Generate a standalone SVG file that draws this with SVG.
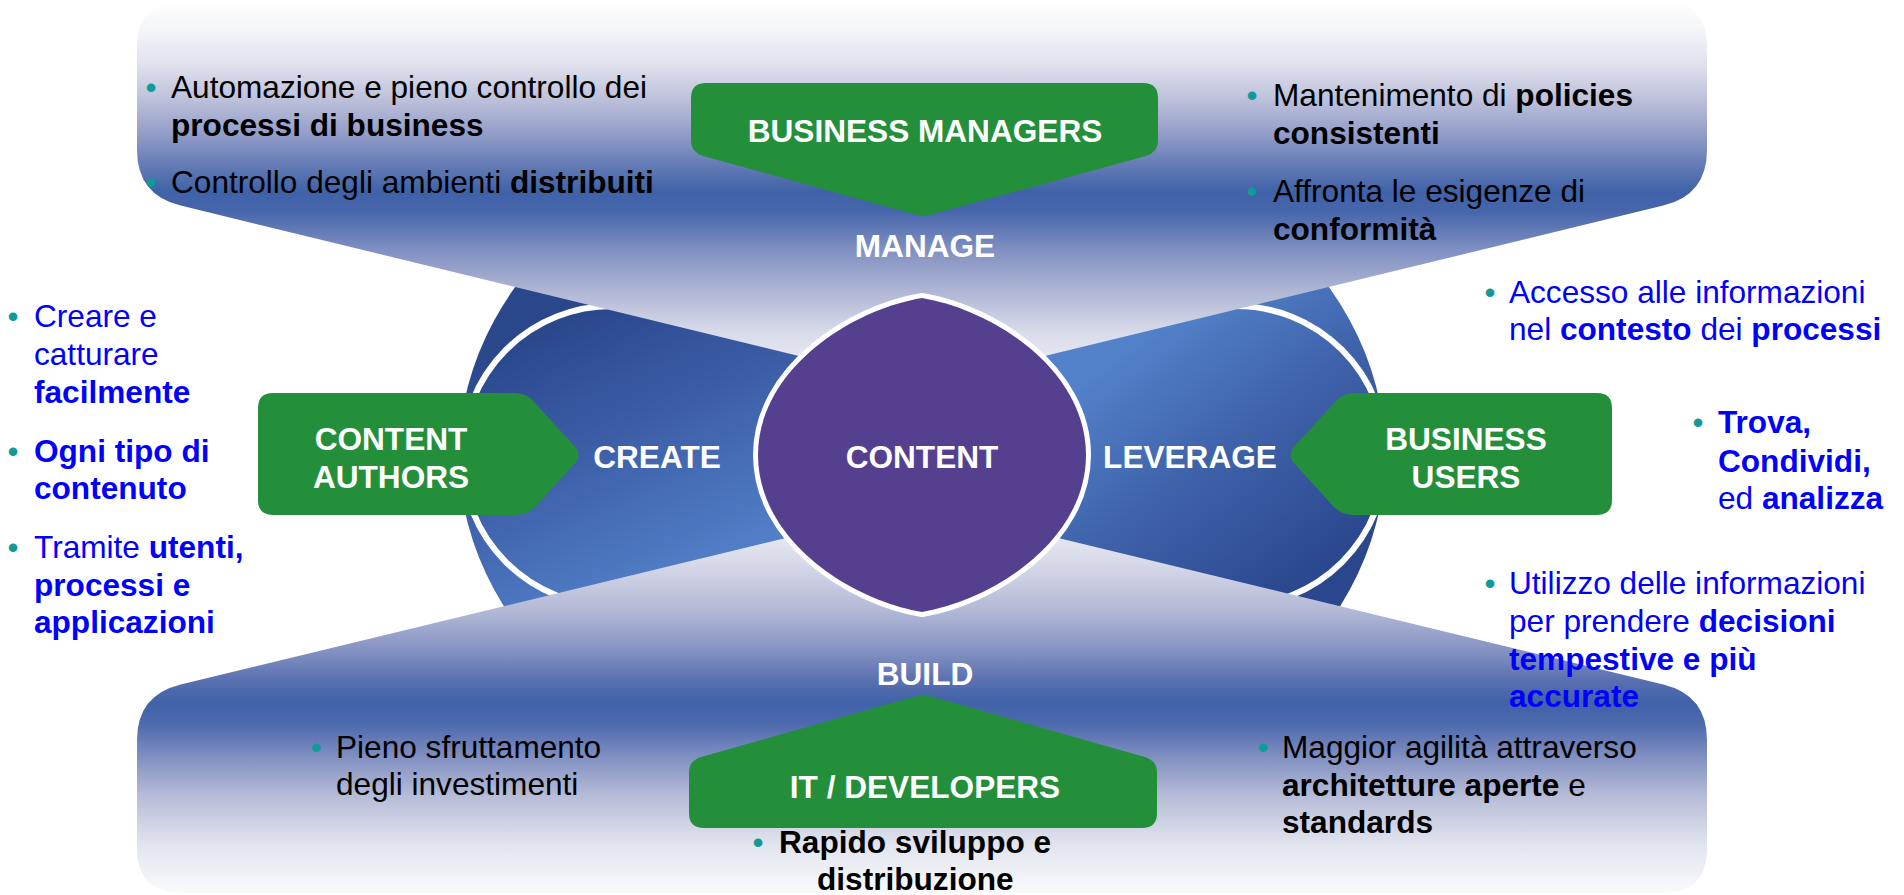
<svg xmlns="http://www.w3.org/2000/svg" width="1904" height="895" viewBox="0 0 1904 895">
<style>
.t{font-family:"Liberation Sans",Arial,Helvetica,sans-serif;font-size:31.6px}
.k{fill:#000}
.u{fill:#0000ff}
.w{fill:#fff;font-weight:bold;text-anchor:middle}
.bd{font-weight:bold}
.dot{fill:#109a9a;text-anchor:middle}
.tag{fill:#248f3b}
.ring{fill:none;stroke:#fff;stroke-width:6}
</style>
<defs>
<linearGradient id="gTop" gradientUnits="userSpaceOnUse" x1="0" y1="0" x2="0" y2="386">
<stop offset="0" stop-color="#ffffff"/>
<stop offset="0.078" stop-color="#f4f5f8"/>
<stop offset="0.168" stop-color="#e0e1ec"/>
<stop offset="0.259" stop-color="#bcc0da"/>
<stop offset="0.337" stop-color="#98a1cb"/>
<stop offset="0.415" stop-color="#6b80b8"/>
<stop offset="0.497" stop-color="#3f62a8"/>
<stop offset="0.549" stop-color="#4766ab"/>
<stop offset="0.648" stop-color="#8090c2"/>
<stop offset="0.751" stop-color="#aeb5d4"/>
<stop offset="0.855" stop-color="#d6d9e9"/>
<stop offset="1" stop-color="#f6f6fa"/>
</linearGradient>
<linearGradient id="gBot" gradientUnits="userSpaceOnUse" x1="0" y1="505" x2="0" y2="893">
<stop offset="0" stop-color="#f6f6fa"/>
<stop offset="0.142" stop-color="#d9dbea"/>
<stop offset="0.271" stop-color="#b3b9d6"/>
<stop offset="0.374" stop-color="#8593c3"/>
<stop offset="0.451" stop-color="#5a70b0"/>
<stop offset="0.510" stop-color="#3f62a8"/>
<stop offset="0.567" stop-color="#4f6aae"/>
<stop offset="0.657" stop-color="#8593c3"/>
<stop offset="0.747" stop-color="#b5bbd7"/>
<stop offset="0.876" stop-color="#e2e4ee"/>
<stop offset="1" stop-color="#fafafc"/>
</linearGradient>
<linearGradient id="gL" gradientUnits="userSpaceOnUse" x1="540" y1="330" x2="660" y2="600">
<stop offset="0" stop-color="#2a478c"/>
<stop offset="0.45" stop-color="#3d5fa8"/>
<stop offset="1" stop-color="#5382ca"/>
</linearGradient>
<linearGradient id="gR" gradientUnits="userSpaceOnUse" x1="1150" y1="330" x2="1330" y2="570">
<stop offset="0" stop-color="#5382ca"/>
<stop offset="0.45" stop-color="#3f63ab"/>
<stop offset="1" stop-color="#2a468c"/>
</linearGradient>
</defs>
<rect x="0" y="0" width="1904" height="895" fill="#ffffff"/>

<g id="lobes">
<path d="M922,103 A463,352 0 0 0 922,807 Z" fill="url(#gL)"/>
<path d="M922,103 A463,352 0 0 1 922,807 Z" fill="url(#gR)"/>
<path class="ring" d="M612,306 A150,150 0 0 0 612,606"/>
<path class="ring" d="M1236,306 A150,150 0 0 1 1236,606"/>
</g>

<g id="banner-top">
<path d="M137,47 Q137,2 182,2 L1662,2 Q1707,2 1707,47 L1707,150 Q1707,195 1663.3,205.6 L922,386 L180.7,205.6 Q137,195 137,150 Z" fill="url(#gTop)"/>
</g>
<g id="banner-bottom">
<path d="M922,505 L1663.3,684.4 Q1707,695 1707,740 L1707,848 Q1707,893 1662,893 L182,893 Q137,893 137,848 L137,740 Q137,695 180.7,684.4 Z" fill="url(#gBot)"/>
</g>

<g id="content">
<path d="M922,298 C850,310 758,370 758,455 C758,540 850,600 922,612 C994,600 1086,540 1086,455 C1086,370 994,310 922,298 Z" fill="#54408e" stroke="#ffffff" stroke-width="10" stroke-linejoin="round" paint-order="stroke"/>
<text class="t w" x="922" y="468">CONTENT</text>
</g>

<g id="connectors"></g>

<g id="business-managers">
<path class="tag" d="M691,98 Q691,83 706,83 L1143,83 Q1158,83 1158,98 L1158,141 Q1158,152 1146,156 L933,214 Q923,217 913,214 L703,156 Q691,152 691,141 Z"/>
<text class="t w" x="925" y="142">BUSINESS MANAGERS</text>
</g>
<g id="it-developers">
<path class="tag" d="M689,813 Q689,828 704,828 L1142,828 Q1157,828 1157,813 L1157,772 Q1157,761 1145,757 L933,697 Q923,694 913,697 L701,757 Q689,761 689,772 Z"/>
<text class="t w" x="925" y="798">IT / DEVELOPERS</text>
</g>
<g id="content-authors">
<path class="tag" d="M258,408 Q258,393 273,393 L515,393 Q527,393 535,403 L576,448 Q581,455 576,462 L535,507 Q527,515 515,515 L273,515 Q258,515 258,500 Z"/>
<text class="t w" x="391" y="450">CONTENT</text>
<text class="t w" x="391" y="488">AUTHORS</text>
</g>
<g id="business-users">
<path class="tag" d="M1612,408 Q1612,393 1597,393 L1354,393 Q1342,393 1334,403 L1293,448 Q1288,455 1293,462 L1334,507 Q1342,515 1354,515 L1597,515 Q1612,515 1612,500 Z"/>
<text class="t w" x="1466" y="450">BUSINESS</text>
<text class="t w" x="1466" y="488">USERS</text>
</g>

<g id="stage-labels">
<text class="t w" x="925" y="257">MANAGE</text>
<text class="t w" x="657" y="468">CREATE</text>
<text class="t w" x="1190" y="468">LEVERAGE</text>
<text class="t w" x="925" y="685">BUILD</text>
</g>

<g id="text-manage-left">
<text class="t dot" x="151" y="98">•</text>
<text class="t k" x="171" y="98">Automazione e pieno controllo dei</text>
<text class="t k bd" x="171" y="136">processi di business</text>
<text class="t dot" x="151" y="193">•</text>
<text class="t k" x="171" y="193">Controllo degli ambienti <tspan class="bd">distribuiti</tspan></text>
</g>
<g id="text-manage-right">
<text class="t dot" x="1252" y="106">•</text>
<text class="t k" x="1273" y="106">Mantenimento di <tspan class="bd">policies</tspan></text>
<text class="t k bd" x="1273" y="144">consistenti</text>
<text class="t dot" x="1252" y="202">•</text>
<text class="t k" x="1273" y="202">Affronta le esigenze di</text>
<text class="t k bd" x="1273" y="240">conformità</text>
</g>
<g id="text-create">
<text class="t dot" x="13" y="327">•</text>
<text class="t u" x="34" y="327">Creare e</text>
<text class="t u" x="34" y="365">catturare</text>
<text class="t u bd" x="34" y="403">facilmente</text>
<text class="t dot" x="13" y="462">•</text>
<text class="t u bd" x="34" y="462">Ogni tipo di</text>
<text class="t u bd" x="34" y="499">contenuto</text>
<text class="t dot" x="13" y="558">•</text>
<text class="t u" x="34" y="558">Tramite <tspan class="bd">utenti,</tspan></text>
<text class="t u bd" x="34" y="596">processi e</text>
<text class="t u bd" x="34" y="633">applicazioni</text>
</g>
<g id="text-leverage">
<text class="t dot" x="1490" y="303">•</text>
<text class="t u" x="1509" y="303">Accesso alle informazioni</text>
<text class="t u" x="1509" y="340">nel <tspan class="bd">contesto</tspan> dei <tspan class="bd">processi</tspan></text>
<text class="t dot" x="1698" y="433">•</text>
<text class="t u bd" x="1718" y="433">Trova,</text>
<text class="t u bd" x="1718" y="472">Condividi,</text>
<text class="t u" x="1718" y="509">ed <tspan class="bd">analizza</tspan></text>
<text class="t dot" x="1490" y="594">•</text>
<text class="t u" x="1509" y="594">Utilizzo delle informazioni</text>
<text class="t u" x="1509" y="632">per prendere <tspan class="bd">decisioni</tspan></text>
<text class="t u bd" x="1509" y="670">tempestive e più</text>
<text class="t u bd" x="1509" y="707">accurate</text>
</g>
<g id="text-build">
<text class="t dot" x="316" y="758">•</text>
<text class="t k" x="336" y="758">Pieno sfruttamento</text>
<text class="t k" x="336" y="795">degli investimenti</text>
<text class="t dot" x="1263" y="758">•</text>
<text class="t k" x="1282" y="758">Maggior agilità attraverso</text>
<text class="t k" x="1282" y="796"><tspan class="bd">architetture aperte</tspan> e</text>
<text class="t k bd" x="1282" y="833">standards</text>
<text class="t dot" x="758" y="853">•</text>
<text class="t k bd" x="779" y="853">Rapido sviluppo e</text>
<text class="t k bd" x="817" y="890">distribuzione</text>
</g>
</svg>
